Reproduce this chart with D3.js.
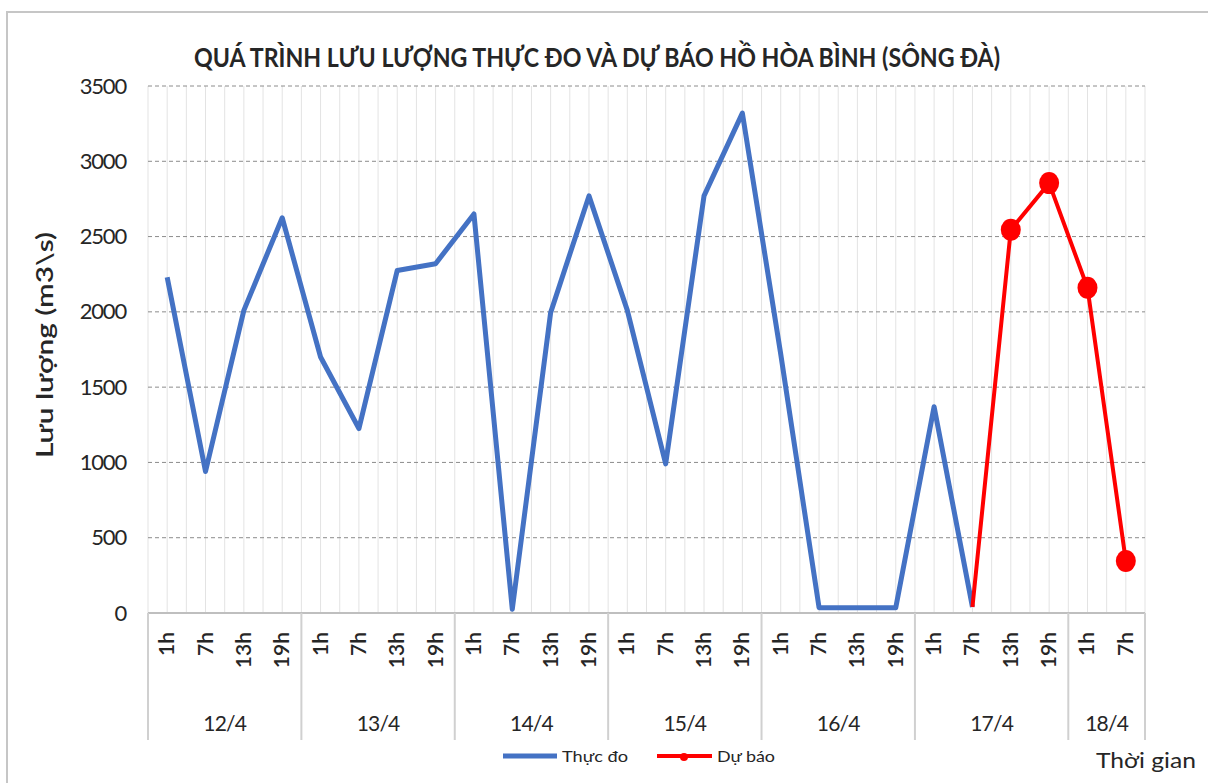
<!DOCTYPE html>
<html>
<head>
<meta charset="utf-8">
<script src="https://cdn.jsdelivr.net/npm/d3@7"></script>
<style>
  body { margin: 0; background: #fff; }
  svg { display: block; }
  text { font-family: Lato, "Open Sans", sans-serif; fill: #262626; }
</style>
</head>
<body>
<div id="chart"></div>
<script>
const days = ['12/4', '13/4', '14/4', '15/4', '16/4', '17/4', '18/4'];
const dayHours = [
  ['1h', '7h', '13h', '19h'],
  ['1h', '7h', '13h', '19h'],
  ['1h', '7h', '13h', '19h'],
  ['1h', '7h', '13h', '19h'],
  ['1h', '7h', '13h', '19h'],
  ['1h', '7h', '13h', '19h'],
  ['1h', '7h']
];
// measured flow (m3/s), from 12/4 1h up to 17/4 7h
const observed = [2230, 940, 2010, 2625, 1700, 1225, 2275, 2320, 2650, 25, 1995, 2770,
  2010, 990, 2770, 3320, 1720, 35, 35, 35, 1370, 40];
// forecast starts at 17/4 7h
const forecastStart = 21;
const forecast = [40, 2545, 2855, 2160, 345];
const yTicks = [0, 500, 1000, 1500, 2000, 2500, 3000, 3500];

const width = 1208, height = 783;
const margin = {left: 148, right: 63, top: 86, bottom: 170};

// flat list of categories
const cats = [];
days.forEach((d, di) => dayHours[di].forEach((h) => cats.push({day: d, hour: h, key: d + ' ' + h})));

const svg = d3.select('#chart').append('svg')
  .attr('width', width)
  .attr('height', height);

// outer chart border
svg.append('rect')
  .attr('x', 7).attr('y', 12)
  .attr('width', width).attr('height', height)
  .attr('fill', 'none')
  .attr('stroke', '#c6c6c6')
  .attr('stroke-width', 2);

const x = d3.scaleBand()
  .domain(cats.map((c) => c.key))
  .range([margin.left, width - margin.right])
  .padding(0);
const bw = x.bandwidth();
const cx = (i) => x(cats[i].key) + bw / 2;

const y = d3.scaleLinear()
  .domain([0, 3500])
  .range([height - margin.bottom, margin.top]);

// vertical light grid (category centres and boundaries)
const vLines = [];
cats.forEach((c, i) => { vLines.push(x(c.key)); vLines.push(x(c.key) + bw / 2); });
vLines.push(width - margin.right);
svg.append('g').selectAll('line')
  .data(vLines)
  .enter().append('line')
  .attr('x1', (d) => d).attr('x2', (d) => d)
  .attr('y1', y(3500)).attr('y2', y(0))
  .attr('stroke', '#e3e3e3')
  .attr('stroke-width', 1);

// horizontal dashed grid
svg.append('g').selectAll('line')
  .data(yTicks.filter((t) => t > 0))
  .enter().append('line')
  .attr('x1', margin.left).attr('x2', width - margin.right)
  .attr('y1', (d) => y(d)).attr('y2', (d) => y(d))
  .attr('stroke', '#8c8c8c')
  .attr('stroke-dasharray', '4,3')
  .attr('stroke-width', 1);

// y axis labels
const yAxis = d3.axisLeft(y).tickValues(yTicks).tickFormat(d3.format('d')).tickSize(0).tickPadding(0);
const gy = svg.append('g')
  .attr('transform', `translate(${margin.left - 22},0)`)
  .call(yAxis);
gy.select('.domain').remove();
gy.selectAll('text')
  .style('font-family', 'Lato, sans-serif')
  .style('font-size', '22px')
  .attr('fill', '#333')
  .attr('letter-spacing', '-1.2');

// x axis base line
svg.append('line')
  .attr('x1', margin.left).attr('x2', width - margin.right)
  .attr('y1', y(0)).attr('y2', y(0))
  .attr('stroke', '#bfbfbf')
  .attr('stroke-width', 2);

// day separators below axis
let idx = 0;
const dayStarts = [];
days.forEach((d, di) => { dayStarts.push({day: d, start: idx, n: dayHours[di].length}); idx += dayHours[di].length; });
const sepX = dayStarts.map((d) => x(cats[d.start].key));
sepX.push(width - margin.right);
svg.append('g').selectAll('line')
  .data(sepX)
  .enter().append('line')
  .attr('x1', (d) => d).attr('x2', (d) => d)
  .attr('y1', y(0)).attr('y2', y(0) + 127)
  .attr('stroke', '#d0d0d0')
  .attr('stroke-width', 2);

// hour labels (rotated)
svg.append('g').selectAll('text')
  .data(cats)
  .enter().append('text')
  .attr('transform', (d, i) => `translate(${cx(i) + 7},${y(0) + 19}) rotate(-90)`)
  .attr('text-anchor', 'end')
  .style('font-size', '21px')
  .style('font-weight', '600')
  .attr('fill', '#222')
  .text((d) => d.hour);

// day labels
svg.append('g').selectAll('text')
  .data(dayStarts)
  .enter().append('text')
  .attr('x', (d) => x(cats[d.start].key) + d.n * bw / 2)
  .attr('y', y(0) + 118)
  .attr('text-anchor', 'middle')
  .style('font-size', '21px')
  .attr('letter-spacing', '-0.8')
  .text((d) => d.day);

// lines
const line = d3.line().x((d) => d.x).y((d) => d.y);
const obsPts = observed.map((v, i) => ({x: cx(i), y: y(v)}));
const fcPts = forecast.map((v, i) => ({x: cx(forecastStart + i), y: y(v)}));

svg.append('path')
  .attr('d', line(obsPts))
  .attr('fill', 'none')
  .attr('stroke', '#4472c4')
  .attr('stroke-width', 5)
  .attr('stroke-linejoin', 'round');

svg.append('path')
  .attr('d', line(fcPts))
  .attr('fill', 'none')
  .attr('stroke', '#ff0000')
  .attr('stroke-width', 4)
  .attr('stroke-linejoin', 'round');

svg.append('g').selectAll('ellipse')
  .data(fcPts.slice(1))
  .enter().append('ellipse')
  .attr('cx', (d) => d.x).attr('cy', (d) => d.y)
  .attr('rx', 10).attr('ry', 11)
  .attr('fill', '#ff0000');

// title
svg.append('text')
  .attr('x', 597).attr('y', 67)
  .attr('text-anchor', 'middle')
  .style('font-size', '26px')
  .style('font-weight', 'bold')
  .attr('textLength', 806)
  .attr('lengthAdjust', 'spacingAndGlyphs')
  .attr('fill', '#111')
  .text('QUÁ TRÌNH LƯU LƯỢNG THỰC ĐO VÀ DỰ BÁO HỒ HÒA BÌNH (SÔNG ĐÀ)');

// y axis title
svg.append('text')
  .attr('transform', `translate(53,345) rotate(-90)`)
  .attr('text-anchor', 'middle')
  .style('font-size', '23px')
  .style('font-weight', '600')
  .attr('textLength', 226)
  .attr('lengthAdjust', 'spacingAndGlyphs')
  .attr('fill', '#1a1a1a')
  .text('Lưu lượng (m3\\s)');

// x axis title
svg.append('text')
  .attr('x', 1196).attr('y', 768)
  .attr('text-anchor', 'end')
  .style('font-size', '22px')
  .attr('textLength', 100)
  .attr('lengthAdjust', 'spacingAndGlyphs')
  .text('Thời gian');

// legend
const legend = svg.append('g').attr('transform', 'translate(503,756)');
legend.append('line')
  .attr('x1', 0).attr('x2', 54).attr('y1', 0).attr('y2', 0)
  .attr('stroke', '#4472c4').attr('stroke-width', 5);
legend.append('text')
  .attr('x', 59).attr('y', 6)
  .style('font-size', '16px')
  .attr('textLength', 66).attr('lengthAdjust', 'spacingAndGlyphs')
  .text('Thực đo');
legend.append('line')
  .attr('x1', 154).attr('x2', 209).attr('y1', 0).attr('y2', 0)
  .attr('stroke', '#ff0000').attr('stroke-width', 4);
legend.append('circle')
  .attr('cx', 181).attr('cy', 1).attr('r', 4)
  .attr('fill', '#ff0000');
legend.append('text')
  .attr('x', 214).attr('y', 6)
  .style('font-size', '16px')
  .attr('textLength', 58).attr('lengthAdjust', 'spacingAndGlyphs')
  .text('Dự báo');
</script>
</body>
</html>
